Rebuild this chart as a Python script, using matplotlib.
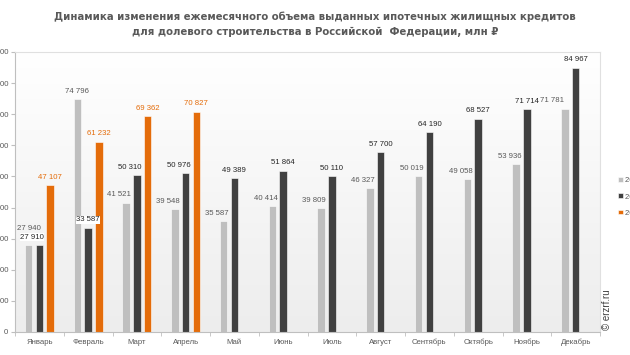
import matplotlib.pyplot as plt
import numpy as np

# Данные: объем выданных кредитов по месяцам, млн руб.
months = ['Январь', 'Февраль', 'Март', 'Апрель', 'Май', 'Июнь', 'Июль',
          'Август', 'Сентябрь', 'Октябрь', 'Ноябрь', 'Декабрь']
years = ['2019 г.', '2020 г.', '2021 г.']
vol_2019 = [27940, 74796, 41521, 39548, 35587, 40414, 39809, 46327, 50019, 49058, 53936, 71781]
vol_2020 = [27910, 33587, 50310, 50976, 49389, 51864, 50110, 57700, 64190, 68527, 71714, 84967]
vol_2021 = [47107, 61232, 69362, 70827]

colors = ['#BFBFBF', '#404040', '#E46C0A']
label_colors = ['#595959', '#262626', '#E46C0A']

plt.rcParams['font.family'] = ['Liberation Sans', 'DejaVu Sans']

fig = plt.figure(figsize=(6.3, 3.55), dpi=100)
ax = fig.add_axes([15 / 630, 23 / 355, 585 / 630, 280 / 355])

# Фон с вертикальным градиентом
grad = np.linspace(1, 0, 256).reshape(-1, 1)
ax.imshow(grad, cmap=plt.matplotlib.colors.LinearSegmentedColormap.from_list(
    'bg', ['#EDEDED', '#FFFFFF']), aspect='auto', extent=[-0.5, 11.5, 0, 90000],
    zorder=0)

x = np.arange(len(months))
width = 0.155
offset = 0.22
series = [vol_2019, vol_2020, vol_2021]

# Сдвиги подписей, чтобы они не налезали друг на друга
shift_x = {(0, j): -0.14 for j in range(2, 11)}
shift_x[(0, 11)] = -0.27
shift_x[(1, 0)] = -0.15
shift_x[(1, 2)] = -0.14
shift_x[(1, 3)] = -0.14
shift_y = {(0, 0): 4300}
boxed = [(1, 0), (1, 1)]

for i, vals in enumerate(series):
    xs = x[:len(vals)] + (i - 1) * offset
    ax.bar(xs, vals, width, color=colors[i], edgecolor='white', linewidth=0.4,
           label=years[i], zorder=2)
    for j, (xx, v) in enumerate(zip(xs, vals)):
        txt = f'{v:,}'.replace(',', ' ')
        box = None
        if (i, j) in boxed:
            box = dict(facecolor='white', edgecolor='none', pad=0.3)
        ax.text(xx + shift_x.get((i, j), 0), v + shift_y.get((i, j), 1400), txt,
                ha='center', va='bottom', fontsize=5.6,
                color=label_colors[i], bbox=box, zorder=3)

ax.set_xlim(-0.5, 11.5)
ax.set_ylim(0, 90000)
ax.set_yticks(np.arange(0, 90001, 10000))
ax.set_yticklabels([f'{v:,}'.replace(',', ' ') for v in range(0, 90001, 10000)])
ax.set_xticks(x)
ax.set_xticklabels(months)
ax.set_xticks(np.arange(-0.5, 12, 1), minor=True)
ax.tick_params(axis='x', which='major', length=0, labelsize=5.6,
               colors='#595959', pad=5)
ax.tick_params(axis='x', which='minor', length=3, color='#BFBFBF')
ax.tick_params(axis='y', length=3, color='#BFBFBF', labelsize=5.6,
               labelcolor='#595959', pad=2)

for s in ['top', 'right']:
    ax.spines[s].set_color('#E0E0E0')
    ax.spines[s].set_linewidth(0.8)
for s in ['left', 'bottom']:
    ax.spines[s].set_color('#BFBFBF')
    ax.spines[s].set_linewidth(0.8)

fig.text(0.5, 0.967, 'Динамика изменения ежемесячного объема выданных ипотечных жилищных кредитов\n'
         'для долевого строительства в Российской  Федерации, млн ₽',
         ha='center', va='top', fontsize=7.3, fontweight='bold', color='#595959',
         family=['DejaVu Sans'], linespacing=1.6)

fig.text(607 / 630, 25 / 355, '© erzrf.ru', rotation=90, ha='center', va='bottom',
         fontsize=7, color='#404040')

ax.legend(loc='center left', bbox_to_anchor=(611 / 630, (355 - 197) / 355),
          bbox_transform=fig.transFigure, frameon=False, fontsize=5.6,
          handlelength=0.6, handleheight=0.6, handletextpad=0.3,
          labelspacing=1.15, labelcolor='#595959')

fig.savefig('out.png', dpi=100)
